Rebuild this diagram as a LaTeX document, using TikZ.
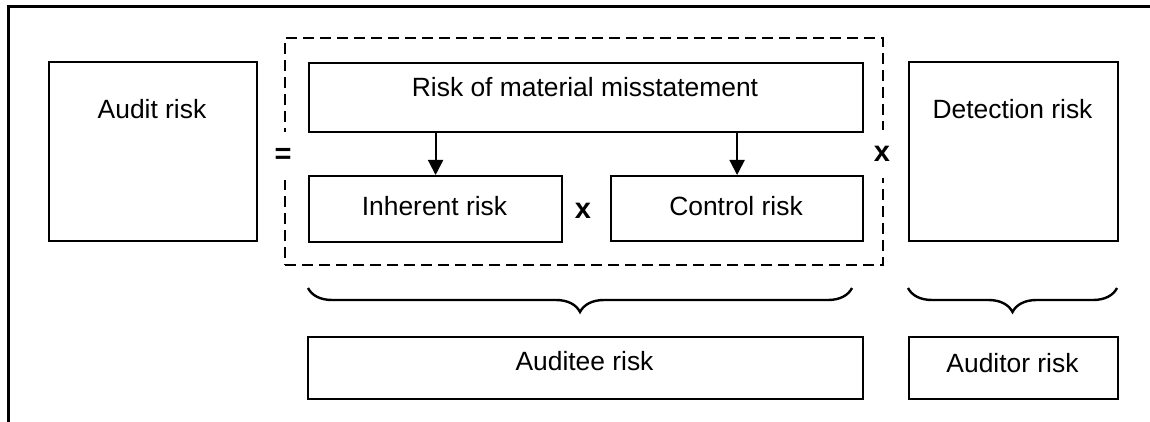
\documentclass[tikz,border=0pt]{standalone}
\usepackage{fontspec}
\setmainfont{Liberation Sans}
\usetikzlibrary{arrows.meta,decorations.pathreplacing}
\begin{document}
\begin{tikzpicture}[x=1pt,y=-1pt,
  box/.style={draw, line width=2.2pt, inner sep=0pt, anchor=north west},
  lbl/.style={font=\fontsize{26.4}{30}\selectfont, inner sep=0pt, anchor=base},
  op/.style={font=\fontsize{29}{32}\selectfont\bfseries, inner sep=0pt},
  onedge/.style={fill=white, inner xsep=3pt, inner ysep=16pt},
  group/.style={draw, line width=2.2pt, dash pattern=on 11pt off 6pt, inner sep=0pt, anchor=north west},
  arr/.style={line width=2pt, -{Triangle[length=15pt,width=15pt]}},
  curly/.style={line width=2.4pt, decorate, decoration={brace, mirror, amplitude=24pt}}]
\useasboundingbox (0,0) rectangle (1150,422);
\fill[white] (0,0) rectangle (1150,422);

% outer frame (top and left edges only)
\draw[line width=3pt] (8,422) -- (8,7) -- (1150,7);

% dashed grouping of the risk of material misstatement
\node[group, minimum width=598pt, minimum height=227pt] (grp) at (284,37) {};

% boxes
\node[box, minimum width=208pt, minimum height=179pt] (audit) at (48,61) {};
\node[box, minimum width=554pt, minimum height=69pt] (rmm) at (308,62) {};
\node[box, minimum width=253pt, minimum height=66pt] (inh) at (308,175) {};
\node[box, minimum width=252pt, minimum height=65pt] (ctrl) at (610,175) {};
\node[box, minimum width=209pt, minimum height=179pt] (det) at (908,61) {};
\node[box, minimum width=555pt, minimum height=62pt] (auditee) at (307,336) {};
\node[box, minimum width=209pt, minimum height=62pt] (auditor) at (908,336) {};

% texts
\node[lbl] (auditT) at (152,119) {Audit risk};
\node[lbl] (rmmT) at (585,97) {Risk of material misstatement};
\node[lbl] (inhT) at (434.5,215) {Inherent risk};
\node[lbl] (ctrlT) at (736,215) {Control risk};
\node[lbl] (detT) at (1012.5,119) {Detection risk};
\node[lbl] (auditeeT) at (584.5,370) {Auditee risk};
\node[lbl] (auditorT) at (1012.5,372) {Auditor risk};

% operators
\node[op, onedge] (eq) at (283,156) {=};
\node[op, anchor=base] (times1) at (583,218) {x};
\node[op, onedge] (times2) at (882,154) {x};

% arrows from the risk of material misstatement to its components
\draw[arr] (rmm.south -| inh.north) -- (inh.north);
\draw[arr] (rmm.south -| ctrl.north) -- (ctrl.north);

% braces
\coordinate (b1s) at (308,288);
\coordinate (b1e) at (852,288);
\coordinate (b2s) at (908,288);
\coordinate (b2e) at (1117,288);
\draw[curly] (b1s) -- (b1e);
\draw[curly] (b2s) -- (b2e);
\end{tikzpicture}
\end{document}
